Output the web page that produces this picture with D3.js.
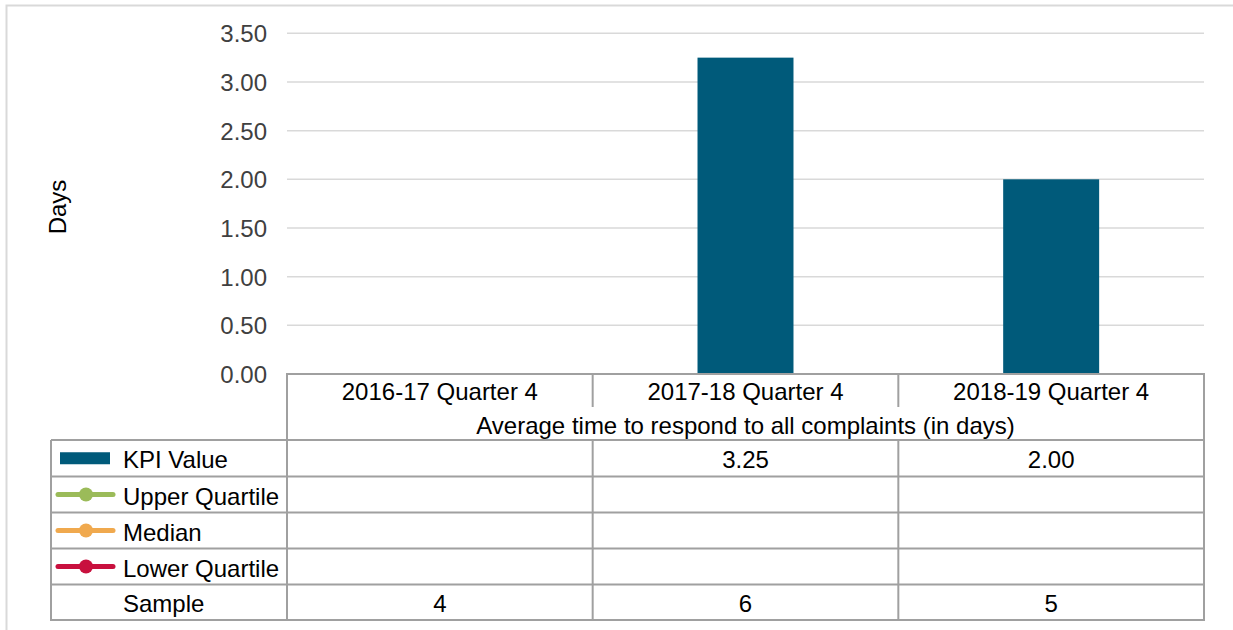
<!DOCTYPE html>
<html>
<head>
<meta charset="utf-8">
<script src="https://cdn.jsdelivr.net/npm/d3@7"></script>
<style>
  body { margin: 0; background: white; }
  text { font-family: "Liberation Sans", Arial, sans-serif; }
</style>
</head>
<body>
<div id="chart_area"></div>
<script>

// Data
var categories = ["2016-17 Quarter 4", "2017-18 Quarter 4", "2018-19 Quarter 4"];
var kpiValues = [null, 3.25, 2.00];
var upperQuartile = [null, null, null];
var medianValues = [null, null, null];
var lowerQuartile = [null, null, null];
var sampleSizes = [4, 6, 5];
var yTicks = [0, 0.5, 1, 1.5, 2, 2.5, 3, 3.5];
var measureTitle = "Average time to respond to all complaints (in days)";

window.onload = function(){

  var svgW = 1233
  var svgH = 630
  var plot = {left: 287, right: 1204, top: 33.3, bottom: 374}
  var tableLeft = 51
  var rowEdges = [440, 476.5, 512.5, 548.5, 584.5, 620]
  var gridColor = "#d9d9d9"
  var lineColor = "#a0a0a0"
  var barColor = "#005a7a"

  var svg = d3.select("#chart_area")
              .append("svg")
                .attr("width", svgW)
                .attr("height", svgH);

  // Outer frame
  svg.append("rect")
      .attr("x", 6.5)
      .attr("y", 5.5)
      .attr("width", svgW + 10)
      .attr("height", svgH + 10)
      .attr("fill", "none")
      .attr("stroke", gridColor)
      .attr("stroke-width", 2);

  // Scales
  var yScale = d3.scaleLinear()
                  .domain([0, 3.5])
                  .range([plot.bottom, plot.top]);

  var colScale = d3.scaleBand()
                  .domain(categories)
                  .range([plot.left, plot.right])
                  .padding(0);

  var xScale = d3.scaleBand()
                  .domain(categories)
                  .range([plot.left, plot.right])
                  .paddingInner(0.686)
                  .paddingOuter(0.343);

  // Gridlines
  svg.append("g")
      .selectAll("line")
      .data(yTicks.slice(1))
      .enter()
      .append("line")
        .attr("x1", plot.left)
        .attr("x2", plot.right)
        .attr("y1", function(d){ return yScale(d); })
        .attr("y2", function(d){ return yScale(d); })
        .attr("stroke", gridColor)
        .attr("stroke-width", 1.5);

  // Y axis labels
  var yAxis = d3.axisLeft(yScale)
                .tickValues(yTicks)
                .tickFormat(d3.format(".2f"))
                .tickSize(0)
                .tickPadding(20);
  var yAxisG = svg.append("g")
                  .attr("transform", "translate(" + plot.left + ",0)")
                  .call(yAxis);
  yAxisG.select(".domain").remove();
  yAxisG.selectAll("text")
        .attr("fill", "#404040")
        .attr("dy", "0.36em")
        .style("font-size", "24px")
        .style("font-family", "'Liberation Sans', Arial, sans-serif");

  // Axis title
  svg.append("text")
      .attr("transform", "translate(66,207) rotate(-90)")
      .style("text-anchor", "middle")
      .style("font-size", "24px")
      .attr("fill", "black")
      .text("Days");

  // Bars
  var barData = categories.map(function(c, i){ return {cat: c, value: kpiValues[i]}; })
                          .filter(function(d){ return d.value != null; });
  svg.append("g")
      .selectAll("rect")
      .data(barData)
      .enter()
      .append("rect")
        .attr("x", function(d){ return xScale(d.cat); })
        .attr("y", function(d){ return yScale(d.value); })
        .attr("width", xScale.bandwidth())
        .attr("height", function(d){ return yScale(0) - yScale(d.value); })
        .attr("fill", barColor);

  // Table lines
  var table = svg.append("g")
                  .attr("stroke", lineColor)
                  .attr("stroke-width", 2)
                  .attr("fill", "none");

  // x axis line / top of category row
  table.append("line")
        .attr("x1", plot.left).attr("x2", plot.right + 1)
        .attr("y1", plot.bottom).attr("y2", plot.bottom);

  // horizontal row lines
  table.selectAll(".rowline")
        .data(rowEdges)
        .enter()
        .append("line")
          .attr("x1", tableLeft).attr("x2", plot.right + 1)
          .attr("y1", function(d){ return d; })
          .attr("y2", function(d){ return d; });

  // outer verticals
  table.append("line")
        .attr("x1", tableLeft).attr("x2", tableLeft)
        .attr("y1", rowEdges[0]).attr("y2", rowEdges[rowEdges.length - 1] + 1);
  [plot.left, plot.right].forEach(function(x){
    table.append("line")
          .attr("x1", x).attr("x2", x)
          .attr("y1", plot.bottom - 1).attr("y2", rowEdges[rowEdges.length - 1] + 1);
  });

  // inner column dividers (broken where the measure title sits)
  categories.slice(1).forEach(function(c){
    var x = colScale(c);
    table.append("line")
          .attr("x1", x).attr("x2", x)
          .attr("y1", plot.bottom).attr("y2", 407);
    table.append("line")
          .attr("x1", x).attr("x2", x)
          .attr("y1", rowEdges[0]).attr("y2", rowEdges[rowEdges.length - 1]);
  });

  // Category labels
  svg.append("g")
      .selectAll("text")
      .data(categories)
      .enter()
      .append("text")
        .attr("x", function(d){ return colScale(d) + colScale.bandwidth() / 2; })
        .attr("y", 400)
        .style("text-anchor", "middle")
        .style("font-size", "24px")
        .text(function(d){ return d; });

  // Measure title
  svg.append("text")
      .attr("x", (plot.left + plot.right) / 2)
      .attr("y", 434)
      .style("text-anchor", "middle")
      .style("font-size", "24px")
      .text(measureTitle);

  // Table rows
  var rows = [
    {name: "KPI Value", values: kpiValues, fmt: d3.format(".2f"), key: "bar", color: barColor},
    {name: "Upper Quartile", values: upperQuartile, fmt: d3.format(".2f"), key: "line", color: "#9bbb59"},
    {name: "Median", values: medianValues, fmt: d3.format(".2f"), key: "line", color: "#f0a94e"},
    {name: "Lower Quartile", values: lowerQuartile, fmt: d3.format(".2f"), key: "line", color: "#c8103e"},
    {name: "Sample", values: sampleSizes, fmt: d3.format("d"), key: "none", color: null}
  ];

  rows.forEach(function(row, i){
    var cy = (rowEdges[i] + rowEdges[i + 1]) / 2;

    // legend key
    if (row.key == "bar") {
      svg.append("rect")
          .attr("x", 60).attr("y", cy - 6)
          .attr("width", 50).attr("height", 12)
          .attr("fill", row.color);
    }
    else if (row.key == "line") {
      svg.append("line")
          .attr("x1", 58).attr("x2", 113)
          .attr("y1", cy).attr("y2", cy)
          .attr("stroke", row.color)
          .attr("stroke-width", 5)
          .attr("stroke-linecap", "round");
      svg.append("circle")
          .attr("cx", 86).attr("cy", cy)
          .attr("r", 7)
          .attr("fill", row.color);
    }

    // row name
    svg.append("text")
        .attr("x", 123)
        .attr("y", cy + 10)
        .style("font-size", "24px")
        .text(row.name);

    // row values
    svg.append("g")
        .selectAll("text")
        .data(row.values)
        .enter()
        .append("text")
          .attr("x", function(d, j){ return colScale(categories[j]) + colScale.bandwidth() / 2; })
          .attr("y", cy + 10)
          .style("text-anchor", "middle")
          .style("font-size", "24px")
          .text(function(d){ return d == null ? "" : row.fmt(d); });
  });
};
</script>
</body>
</html>
